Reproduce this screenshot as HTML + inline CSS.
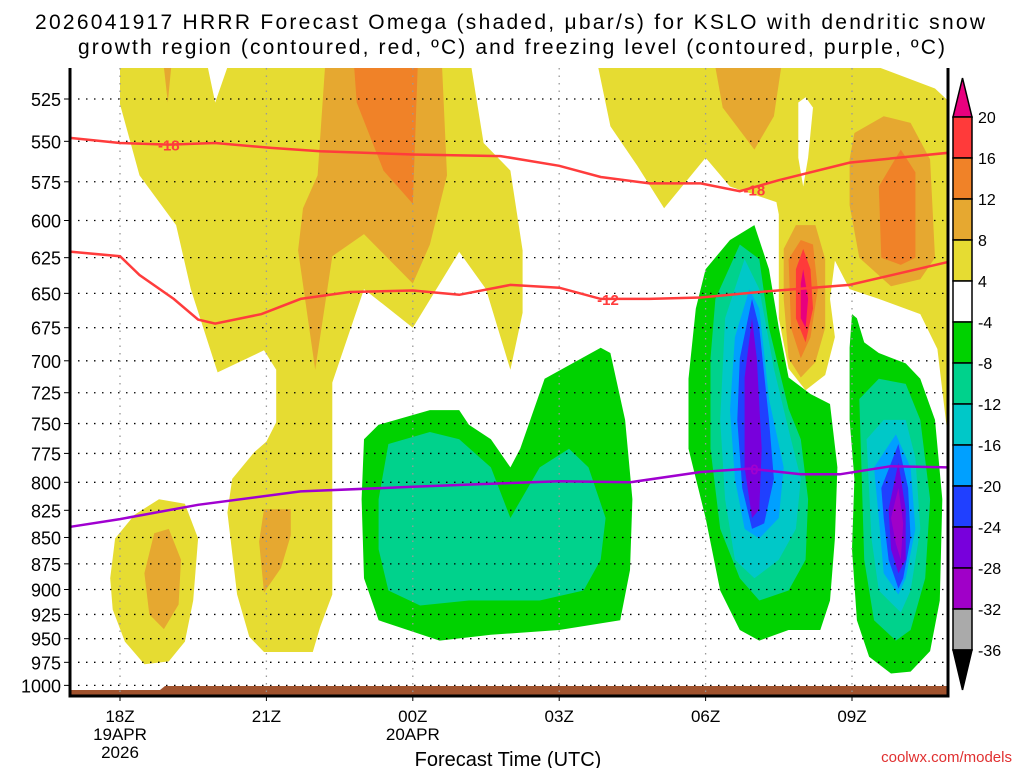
<!DOCTYPE html>
<html><head><meta charset="utf-8"><style>
html,body{margin:0;padding:0;background:#fff;}
svg{display:block;font-family:"Liberation Sans","DejaVu Sans",sans-serif;}
</style></head><body>
<svg id="chart" width="1024" height="768" viewBox="0 0 1024 768" xmlns="http://www.w3.org/2000/svg">
<rect width="1024" height="768" fill="#fff"/>
<text x="35" y="29" font-size="21" textLength="950" lengthAdjust="spacing" fill="#000">2026041917 HRRR Forecast Omega (shaded, μbar/s) for KSLO with dendritic snow</text>
<text x="78" y="54" font-size="21" textLength="867" lengthAdjust="spacing" fill="#000">growth region (contoured, red, ºC) and freezing level (contoured, purple, ºC)</text>
<defs><clipPath id="plotclip"><rect x="70" y="68" width="878" height="627"/></clipPath></defs>
<g id="fills" clip-path="url(#plotclip)"></g>
<g id="grid"></g>
<g id="lines" clip-path="url(#plotclip)"></g>
<g id="axes"></g>
<g id="cbar"></g>
<text x="508" y="766" font-size="20" text-anchor="middle">Forecast Time (UTC)</text>
<text x="1012" y="762" font-size="15" text-anchor="end" fill="#e03030">coolwx.com/models</text>
</svg>
<script>
const NS="http://www.w3.org/2000/svg";
// ---- data ----
const pressureLevels=[525,550,575,600,625,650,675,700,725,750,775,800,825,850,875,900,925,950,975,1000];
const timeTickHours=[0,3,6,9,12,15];
const timeTickLabels=[["18Z","19APR","2026"],["21Z"],["00Z","20APR"],["03Z"],["06Z"],["09Z"]];
const colorLevels=[20,16,12,8,4,-4,-8,-12,-16,-20,-24,-28,-32,-36];
const colorFills=["#ff3a3a","#f08228","#e6a830","#e6dc32","#ffffff","#00d200","#00d28c","#00c8c8","#00a0ff","#2040ff","#7800dc","#a000c8","#aaaaaa"];
const yellowUpper=[[0,507],[1.8,507],[1.95,527],[2.2,507],[7.2,507],[7.45,551],[8.0,568],[8.25,620],[8.25,664],[8.0,707],[7.5,647],[6.95,621],[6.0,675],[5.0,647],[4.35,717],[4.35,905],[4.1,938],[3.95,964],[2.95,964],[2.65,948],[2.4,905],[2.2,827],[2.3,797],[2.75,774],[3.0,765],[3.2,749],[3.2,707],[2.95,692],[2.0,709],[1.45,647],[1.15,603],[0.4,571],[0,528]];
const yellow18z=[[-0.2,889],[-0.1,851],[0.3,829],[0.8,815],[1.33,819],[1.6,851],[1.5,911],[1.33,953],[1.0,974],[0.5,977],[0.1,953],[-0.15,920]];
const gold18z=[[0.5,884],[0.7,846],[1.0,842],[1.25,871],[1.2,915],[0.9,940],[0.6,925]];
const gold21z=[[2.95,824],[3.5,824],[3.5,848],[3.3,879],[2.95,903],[2.85,854]];
const goldUpper=[[4.2,507],[6.6,507],[6.7,571],[6.35,616],[6.0,643],[5.0,609],[4.35,624],[4.0,707],[3.65,620],[3.75,592],[4.05,571]];
const goldThin=[[0.9,507],[1.05,507],[0.98,527]];
const orangeUpper=[[4.8,507],[6.1,507],[6.0,589],[5.4,568],[4.85,527]];
const yellowRight=[[9.8,507],[15.55,507],[16.7,519],[16.97,526],[16.97,763],[16.75,691],[16.4,665],[15.55,654],[14.95,647],[14.65,627],[14.55,654],[14.65,682],[14.45,711],[14.05,723],[13.7,706],[13.5,668],[13.5,627],[13.5,596],[13.45,588],[12.5,578],[12.0,560],[11.15,592],[10.6,565],[10.05,541]];
const whiteNotch=[[13.9,527],[14.05,524],[14.2,530],[14.1,560],[14.0,578],[13.9,560]];
const goldRight1=[[12.2,507],[13.55,507],[13.4,535],[13.0,555],[12.35,530]];
const goldRight2=[[14.95,561],[15.05,545],[15.65,535],[16.2,539],[16.6,561],[16.7,625],[16.4,640],[15.8,645],[15.15,625],[14.95,590]];
const gold08z=[[13.6,619],[13.85,603],[14.25,603],[14.45,626],[14.45,675],[14.25,701],[13.95,713],[13.7,698],[13.6,654]];
const orangeRight=[[15.55,578],[16.0,555],[16.3,569],[16.3,625],[16.0,630],[15.6,625]];
const orange08z=[[13.7,626],[13.95,613],[14.2,616],[14.3,647],[14.15,682],[13.95,698],[13.75,675]];
const red08z=[[13.85,633],[14.0,619],[14.15,633],[14.2,661],[14.05,686],[13.85,668]];
const magenta08z=[[13.95,643],[14.0,633],[14.1,654],[14.05,675],[13.95,668]];
const green00z=[[5.0,763],[5.3,751],[6.35,739],[6.95,739],[7.15,751],[7.6,763],[8.0,787],[8.2,771],[8.7,714],[9.85,690],[10.05,694],[10.35,747],[10.5,815],[10.45,881],[10.25,931],[9.0,941],[7.6,946],[6.55,952],[5.3,931],[5.0,889],[4.95,815]];
const teal00z=[[5.3,815],[5.5,767],[6.35,757],[6.95,763],[7.6,787],[8.0,832],[8.6,787],[9.2,771],[9.6,787],[9.95,832],[9.85,871],[9.5,901],[8.6,911],[7.15,911],[6.15,916],[5.5,901],[5.3,861]];
const green06z=[[12.0,633],[12.5,613],[13.0,603],[13.3,633],[13.5,675],[13.7,713],[14.15,726],[14.55,734],[14.7,787],[14.65,851],[14.55,911],[14.35,941],[13.7,941],[13.1,952],[12.7,941],[12.3,901],[12.0,832],[11.65,771],[11.65,714],[11.8,661]];
const teal06z=[[12.2,654],[12.7,616],[13.1,626],[13.3,675],[13.7,738],[13.95,763],[14.1,815],[14.05,871],[13.7,901],[13.1,911],[12.7,889],[12.3,842],[12.1,771],[12.1,698]];
const cyan06z=[[12.4,668],[12.8,626],[13.1,647],[13.4,706],[13.7,755],[13.95,797],[13.85,842],[13.5,871],[13.0,889],[12.6,871],[12.4,815],[12.3,747]];
const ltblue06z=[[12.6,682],[12.9,647],[13.1,661],[13.3,730],[13.6,787],[13.5,832],[13.1,851],[12.8,842],[12.6,797],[12.5,739]];
const blue06z=[[12.7,698],[12.95,654],[13.1,675],[13.3,747],[13.4,797],[13.2,837],[12.95,842],[12.75,805],[12.65,747]];
const purple06z=[[12.8,713],[12.95,668],[13.05,698],[13.15,771],[13.1,824],[12.95,832],[12.8,787]];
const green10z=[[15.0,665],[15.1,668],[15.25,686],[15.55,694],[16.1,702],[16.4,714],[16.7,747],[16.85,815],[16.8,911],[16.6,963],[16.2,985],[15.8,987],[15.35,969],[15.1,931],[15.0,861],[15.05,797],[14.95,747],[14.95,690]];
const teal10z=[[15.15,730],[15.55,714],[16.1,718],[16.4,747],[16.6,815],[16.5,889],[16.2,941],[15.9,952],[15.45,931],[15.25,871],[15.2,797]];
const cyan10z=[[15.3,763],[15.65,747],[16.1,747],[16.3,779],[16.4,842],[16.2,901],[16.0,923],[15.55,901],[15.4,851]];
const ltblue10z=[[15.45,787],[15.9,759],[16.2,787],[16.3,842],[16.1,889],[15.95,905],[15.65,884],[15.55,832]];
const blue10z=[[15.6,805],[15.95,767],[16.15,805],[16.2,851],[16.05,889],[15.95,899],[15.75,871],[15.65,832]];
const purple10z=[[15.75,824],[15.95,783],[16.1,824],[16.1,871],[15.95,884],[15.8,861]];
const violet10z=[[15.8,832],[15.95,805],[16.05,837],[16.0,871],[15.9,856]];
const isoM18Hours=[-1,0,1,1.95,3.1,4.1,6,7.8,9,9.85,10.85,11.9,12.7,13.5,14.95,16.97];
const isoM18Press=[548,551,552,551,554,556,558,559,565,572,576,576,581,574,563,557];
const isoM12Hours=[-1,0,0.4,1.1,1.6,1.95,2.9,3.7,4.7,6,6.95,8.0,9,9.85,10.85,11.9,13.1,14.95,16.97];
const isoM12Press=[621,624,637,654,669,672,665,654,649,648,651,644,646,654,654,653,649,644,628];
const iso0Hours=[-1,0,1.6,3.7,6,7.8,9,10.45,11.9,12.9,13.95,14.75,15.8,16.97];
const iso0Press=[840,833,820,808,804,801,799,800,791,788,793,793,786,787];
// ---- axes ----
const xS=h=>120+48.8*h;
const yS=p=>99+910*Math.log(p/525);
function mk(tag,attrs,parent){const e=document.createElementNS(NS,tag);for(const k in attrs)e.setAttribute(k,attrs[k]);parent.appendChild(e);return e;}
const fillsG=document.getElementById('fills');
const regions=[
 ['yellow-upper',yellowUpper,3],['yellow-18z',yellow18z,3],['yellow-right',yellowRight,3],['white-notch',whiteNotch,4],
 ['gold-18z',gold18z,2],['gold-21z',gold21z,2],['gold-upper',goldUpper,2],['gold-thin',goldThin,2],['gold-right1',goldRight1,2],['gold-right2',goldRight2,2],['gold-08z',gold08z,2],
 ['orange-upper',orangeUpper,1],['orange-right',orangeRight,1],['orange-08z',orange08z,1],['red-08z',red08z,0],['magenta-08z',magenta08z,-1],
 ['green-00z',green00z,5],['teal-00z',teal00z,6],
 ['green-06z',green06z,5],['teal-06z',teal06z,6],['cyan-06z',cyan06z,7],['ltblue-06z',ltblue06z,8],['blue-06z',blue06z,9],['purple-06z',purple06z,10],
 ['green-10z',green10z,5],['teal-10z',teal10z,6],['cyan-10z',cyan10z,7],['ltblue-10z',ltblue10z,8],['blue-10z',blue10z,9],['purple-10z',purple10z,10],['violet-10z',violet10z,11]
];
regions.forEach(r=>{
 const pts=r[1].map(d=>xS(d[0]).toFixed(1)+','+yS(d[1]).toFixed(1)).join(' ');
 const c=r[2]<0?'#e8007e':colorFills[r[2]];
 const pg=mk('polygon',{points:pts,fill:c,'stroke-linejoin':'round'},fillsG);
 
 
});
const ground=mk('polygon',{points:'70,690 160,690 165,686 948,686 948,695 70,695',fill:'#a0522d'},fillsG);


const gridG=document.getElementById('grid'),axesG=document.getElementById('axes');
pressureLevels.forEach(p=>{
 const y=yS(p);
 const g=mk('line',{x1:70,x2:948,y1:y,y2:y,stroke:'#000','stroke-width':1.3,'stroke-dasharray':'1.5 6.5'},gridG);
 
 
 mk('line',{x1:64,x2:70,y1:y,y2:y,stroke:'#000','stroke-width':1},axesG);
 const t=mk('text',{x:61,y:y+7,'font-size':18,'text-anchor':'end',fill:'#000'},axesG);
 t.textContent=p;
 
 
});
timeTickHours.forEach((h,i)=>{
 const x=xS(h);
 const g=mk('line',{x1:x,x2:x,y1:68,y2:695,stroke:'#999','stroke-width':1.3,'stroke-dasharray':'1.5 6'},gridG);
 
 
 mk('line',{x1:x,x2:x,y1:695,y2:701,stroke:'#000'},axesG);
 timeTickLabels[i].forEach((s,j)=>{
  const t=mk('text',{x:x,y:722+j*18,'font-size':17,'text-anchor':'middle'},axesG);
  t.textContent=s;
  
  
 });
});
mk('polyline',{points:'70,68 70,696 948,696 948,68',fill:'none',stroke:'#000','stroke-width':3},axesG);
const linesG=document.getElementById('lines');
function drawLine(name,hs,ps,color){
 const pl=mk('polyline',{points:hs.map((h,i)=>xS(h).toFixed(1)+','+yS(ps[i]).toFixed(1)).join(' '),fill:'none',stroke:color,'stroke-width':2.5},linesG);
 
 
}
drawLine('isotherm-minus18',isoM18Hours,isoM18Press,'#ff3c3c');
drawLine('isotherm-minus12',isoM12Hours,isoM12Press,'#ff3c3c');
drawLine('freezing-level',iso0Hours,iso0Press,'#a000d0');
function lbl(txt,h,p,color,name){
 const x=xS(h),y=yS(p);
 const t=mk('text',{x:x,y:y+6,'font-size':15,'font-weight':'bold','text-anchor':'middle',fill:color},linesG);
 t.textContent=txt;
 
 
}
lbl('-18',1.0,552,'#ff3c3c','isotherm-label-minus18');
lbl('-18',13.0,580,'#ff3c3c','isotherm-label-minus18-right');
lbl('-12',10.0,654,'#ff3c3c','isotherm-label-minus12');
lbl('0',13.0,788,'#a000d0','freezing-level-label');
const cbG=document.getElementById('cbar');
const cy=v=>117+colorLevels.indexOf(v)*41.0;
const cbTop=mk('polygon',{points:'953,117 972,117 962.5,78',fill:'#e8007e',stroke:'#000','stroke-width':1.5},cbG);


colorFills.forEach((c,i)=>{
 const r=mk('rect',{x:953,y:cy(colorLevels[i]),width:19,height:41,fill:c,stroke:'#000','stroke-width':1.5},cbG);
 
 
});
const cbBot=mk('polygon',{points:'953,650 972,650 962.5,690',fill:'#000',stroke:'#000','stroke-width':1.5},cbG);


colorLevels.forEach(v=>{
 const t=mk('text',{x:978,y:cy(v)+6,'font-size':16},cbG);
 t.textContent=v;
 
 
});
</script>
</body></html>
